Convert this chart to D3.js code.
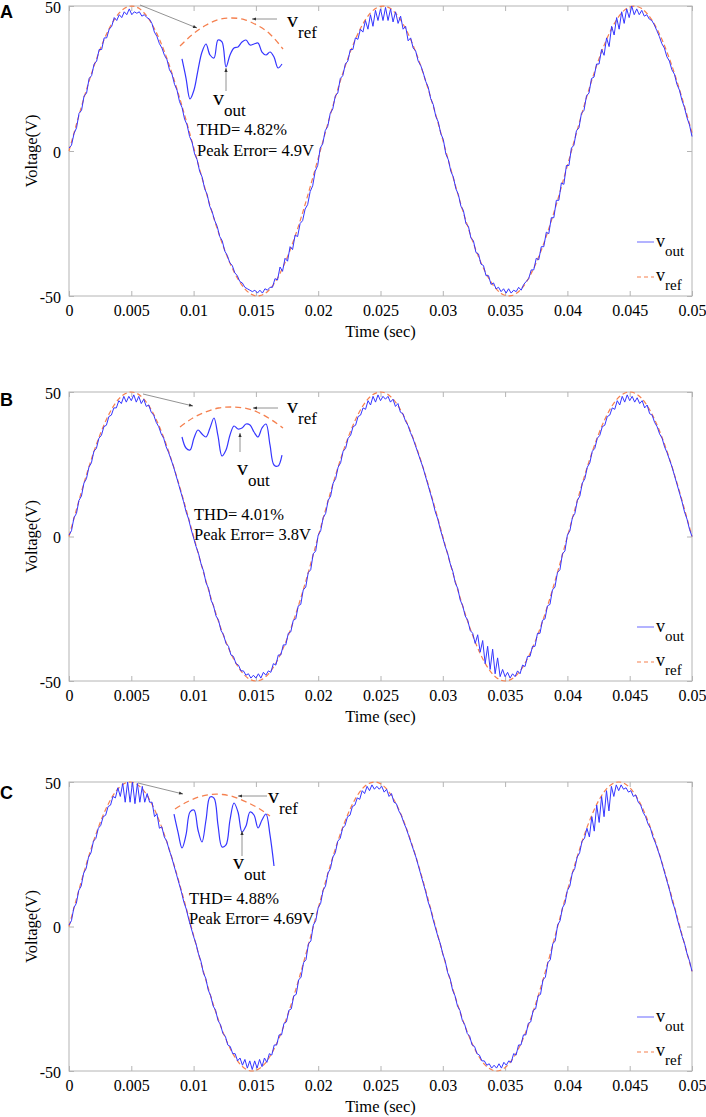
<!DOCTYPE html>
<html><head><meta charset="utf-8">
<script src="https://cdn.jsdelivr.net/npm/d3@7"></script>
<style>body{margin:0;background:#fff}svg{display:block}svg text{font-family:"Liberation Serif","Times New Roman",serif}</style>
</head><body>
<svg id="chart" width="706" height="1117"></svg>
<script>
// ---------- DATA ----------
const timeDomain = [0, 0.05];
const xTicks = [0,0.005,0.01,0.015,0.02,0.025,0.03,0.035,0.04,0.045,0.05];
const xTickLabels = ["0","0.005","0.01","0.015","0.02","0.025","0.03","0.035","0.04","0.045","0.05"];
const yTicks = [50, 0, -50];
const yTickLabels = ["50","0","-50"];
const panelLetters = ["A","B","C"];
const thdLabels = ["THD= 4.82%","THD= 4.01%","THD= 4.88%"];
const peakErrLabels = ["Peak Error= 4.9V","Peak Error= 3.8V","Peak Error= 4.69V"];

// v_out samples (uniform over 0..0.05 s)
const voutA = [
1,2,6,8,13,14,19,20,25,26,30,31,35,35,39,39,42,43,46,45,47,46,48,47,49,
47,48,47.5,48,46.5,47,46,45.5,44,41,39.5,37,35.5,33,31.5,28,26.5,23,21,17,15,11,9,5,3,
-1,-3,-7,-9,-13,-15,-19,-21,-24,-26,-29.5,-31,-34.5,-36,-38.5,-39.5,-42,-43,-45,-45.5,-47,-47.5,-48,-48.5,-48,
-49,-48,-49,-47.5,-48,-47,-47,-44,-44.5,-40,-41.5,-37,-38,-33,-34,-29,-29.5,-25,-24,-20,-18.5,-14,-12,-7,-5,
1,2.5,7,8.5,13,14.5,19,20,25,26,30,31,35,35,39,38.5,42,41,45,42,47,43,48.5,45,49,
45,49.5,45,49,44.5,48,44,46.5,42,43,38,39,35.5,34.5,31,29.5,27,24,22,18,16,12,10,6,4,
-1,-3,-7,-9,-13,-15,-19,-20.5,-25,-26,-30,-31,-35,-35.5,-39,-39.5,-43,-43,-46,-45.5,-47.5,-47,-48.5,-47.5,-49,
-47.5,-49,-48,-48.5,-47,-48,-46,-45,-44,-41,-41,-37,-37.5,-33,-33,-28,-28.5,-23,-23,-17,-17,-11,-11.5,-5,-5,
1,2,7,8,13,14,19,20,25,25.5,30,30,35,33,39,36,43,40,46,42,48,44,49,46,50,
47,49,47,48.5,46.5,47,45.5,45,43.5,41.5,39.5,37,35.5,32.5,31,28,26.5,23,21,17.5,15,11.5,9,5
];
const voutB = [
0.5,2,6.5,8,12.5,14,18.5,20,24,25.5,29.5,30.5,34,35,38,38.5,41.5,42,44.5,44.5,47,46,48.5,46.5,48.5,
47,49,46.5,48.5,46,47.5,45,45.5,43,42,39.5,38,35.5,34,31,29,26.5,24,21,18,15,12,8.5,6,2.5,
-0.5,-3.5,-6,-9.5,-12,-16,-18,-22,-24,-27.5,-29,-32.5,-34,-37,-38,-41,-41.5,-44,-44.5,-46.5,-46.5,-48,-47.5,-49,-48,
-49,-47.5,-49,-47,-48,-46.5,-47,-44,-44.5,-41,-41,-37.5,-37.5,-33.5,-33,-29,-28.5,-24,-23.5,-18.5,-17.5,-12.5,-11.5,-6,-5,
0.5,2,6.5,8,12.5,14,18.5,20,24,25.5,29.5,30.5,34,35,38,38.5,41.5,42,44.5,44,47,45.5,48.5,46.5,49,
47,48.5,47.5,48.5,46.5,47.5,45,46,43,42.5,40,38.5,36,34,31.5,29,26.5,24,21,18,15,12,8.5,6,2.5,
-0.5,-3.5,-6,-9.5,-12,-16,-18,-22,-24,-27.5,-29,-32.5,-33.5,-37,-34,-40,-36,-44,-38,-46,-39,-47.5,-42,-48.5,-46,
-48.5,-47,-49,-47.5,-48.5,-46.5,-47.5,-44.5,-45,-41.5,-41.5,-38,-38,-33.5,-33.5,-29,-28.5,-24,-23.5,-18.5,-17.5,-12.5,-11.5,-6,-5,
0.5,2,6.5,8,12.5,14,18.5,20,24,25.5,29.5,30.5,34,35,38,38.5,41.5,42,44.5,44,47,45.5,48.5,46.5,49,
47,48.5,46.5,48,46,47,44.5,45.5,42.5,42,39.5,38,35.5,34,31,29,26.5,24,21,18,15,12,8.5,6,2.5,0
];
const voutC = [
0.5,2,6.5,8,12.5,14,18.5,20,24,25.5,29.5,30.5,34,35,38,38.5,41.5,42,45,44.5,48,45,49.5,43,50,
43,50,42.5,49.5,43,48.5,43,46,43,43,38,39,34,34.5,31,29.5,26.5,24,21,18,15,12,8.5,6,2.5,
-0.5,-3.5,-6,-9.5,-12,-16,-18,-22,-24,-27.5,-29,-32.5,-34,-37,-38,-41,-41.5,-44,-44,-46.5,-45.5,-48,-46,-49,-46.5,
-49.5,-46.5,-49,-46,-48.5,-45.5,-47,-44,-44.5,-41,-41,-37.5,-37.5,-33.5,-33,-29,-28.5,-24,-23.5,-18.5,-17.5,-12.5,-11.5,-6,-5,
0.5,2,6.5,8,12.5,14,18.5,20,24,25.5,29.5,30.5,34,35,38,38.5,41.5,42,44.5,44,47,46,48.5,47,49,
47.5,48.5,47.5,48.5,46.5,47.5,45,46,43,42.5,40,38.5,36,34,31.5,29,26.5,24,21,18,15,12,8.5,6,2.5,
-0.5,-3.5,-6,-9.5,-12,-16,-18,-22,-24,-27.5,-29,-32.5,-34,-37,-38,-41,-41.5,-44,-44.5,-46.5,-46.5,-48,-47.5,-49,-48,
-49,-47.5,-49,-47,-48,-46.5,-47,-44,-44.5,-41,-41,-37.5,-37.5,-33.5,-33,-29,-28.5,-24,-23.5,-18.5,-17.5,-12.5,-11.5,-6,-5,
0.5,2,6.5,8,12.5,14,18.5,20,24,25.5,29.5,30.5,34,31,38,33,42,36,45,38,47,40,48.5,45,49,
47,49,47.5,48,46.5,47,45,45.5,43,42,39.5,38,35.5,34,31,29,26.5,24,21,18,15,12,8.5,6,2.5,
-0.5,-3.5,-6,-9.5,-12,-15.5
];

// v_ref samples (uniform over 0..0.05 s)
const vrefA = [
0,12.4,24.1,34.2,42.2,47.6,49.9,49.1,45.2,38.5,29.4,18.4,6.3,-6.3,-18.4,-29.4,-38.5,-45.2,-49.1,-49.9,-47.6,-42.2,-34.2,-24.1,-12.4,
0,12.4,24.1,34.2,42.2,47.6,49.9,49.1,45.2,38.5,29.4,18.4,6.3,-6.3,-18.4,-29.4,-38.5,-45.2,-49.1,-49.9,-47.6,-42.2,-34.2,-24.1,-12.4,
0,12.4,24.1,34.2,42.2,47.6,49.9,49.1,45.2,38.5,29.4,18.4,6.3
];
const vrefB = [
0,15.5,29.4,40.5,47.6,50,47.6,40.5,29.4,15.5,0,-15.5,-29.4,-40.5,-47.6,-50,-47.6,-40.5,-29.4,-15.5,
0,15.5,29.4,40.5,47.6,50,47.6,40.5,29.4,15.5,0,-15.5,-29.4,-40.5,-47.6,-50,-47.6,-40.5,-29.4,-15.5,
0,15.5,29.4,40.5,47.6,50,47.6,40.5,29.4,15.5,0
];
const vrefC = [
0,15.5,29.4,40.5,47.6,50,47.6,40.5,29.4,15.5,0,-15.5,-29.4,-40.5,-47.6,-50,-47.6,-40.5,-29.4,-15.5,
0,15.5,29.4,40.5,47.6,50,47.6,40.5,29.4,15.5,0,-15.5,-29.4,-40.5,-47.6,-50,-47.6,-40.5,-29.4,-15.5,
0,15.5,29.4,40.5,47.6,50,47.6,40.5,29.4,15.5,0,-15.5
];

// zoomed insets (relative level: 100 = top of reference arc)
const insetOutA = [49.4,25.9,0,11.1,35.8,58.0,67.9,54.3,50.6,72.8,70.4,39.5,54.3,63.0,64.2,70.4,72.8,66.7,67.9,69.1,58.0,54.3,58.0,51.9,38.3,43.2];
const insetRefA = [65.4,80,91,98,100,98,91,80,61.7];
const insetOutB = [52.4,34.9,31.7,50.8,63.5,57.1,52.4,66.7,82.5,54.0,22.2,31.7,55.6,69.8,65.1,66.7,73.0,71.4,60.3,52.4,66.7,73.0,39.7,7.9,6.3,23.8];
const insetRefB = [68.3,82.5,92.1,98.4,100,98.4,92.1,81.0,66.7];
const insetOutC = [72.2,47.2,25.0,43.1,75.0,77.8,50.0,33.3,63.9,95.8,94.4,56.9,26.4,29.2,63.9,87.5,75.0,47.2,55.6,75.0,70.8,52.8,63.9,72.2,43.1,0];
const insetRefC = [79.2,88.9,95.8,99.3,99.3,95.8,88.9,80.6,69.4];

// ---------- LAYOUT ----------
const X0 = 69, X1 = 692;
const OUT_COLOR = "#3535ff", REF_COLOR = "#f5804f", FRAME = "#b4b4b4";
const panels = [
  {top:6, bottom:296, letterY:18, out:voutA, ref:vrefA, inOut:insetOutA, inRef:insetRefA,
   inset:{refX:[180,283], outX:[182,282], hi:18, lo:99},
   ptr:[[140,5],[197,28]], refArrow:[[277,19],[252,19]], outArrow:[[226,91],[226,68]],
   refLbl:[287,27], outLbl:[213,105], thd:[197,135], pe:[197,156]},
  {top:392, bottom:681, letterY:406, out:voutB, ref:vrefB, inOut:insetOutB, inRef:insetRefB,
   inset:{refX:[180,283], outX:[182,282], hi:407, lo:470},
   ptr:[[143,394],[193,406]], refArrow:[[278,408],[253,408]], outArrow:[[240,452],[240,433]],
   refLbl:[287,413], outLbl:[237,475], thd:[194,520], pe:[194,540]},
  {top:782, bottom:1071, letterY:799, out:voutC, ref:vrefC, inOut:insetOutC, inRef:insetRefC,
   inset:{refX:[175,270], outX:[174,274], hi:794, lo:866},
   ptr:[[138,783],[183,794]], refArrow:[[267,796],[238,796]], outArrow:[[242,856],[242,831]],
   refLbl:[268,803], outLbl:[233,869], thd:[189,904], pe:[189,924]}
];

const svg = d3.select("#chart");
const defs = svg.append("defs");
defs.append("marker").attr("id","ah").attr("viewBox","0 0 10 10").attr("refX",10).attr("refY",5)
  .attr("markerWidth",6).attr("markerHeight",5).attr("orient","auto")
  .append("path").attr("d","M0,1 L10,5 L0,9 Z").attr("fill","#333");

const serif = "Liberation Serif, Times New Roman, serif";
const x = d3.scaleLinear().domain(timeDomain).range([X0, X1]);

function subLabel(g, px, py, sub, big, small){
  const t = g.append("text").attr("x",px).attr("y",py).style("font-family",serif).attr("font-size",big).attr("fill","#000");
  t.append("tspan").text("v");
  t.append("tspan").attr("dy", big*0.5).attr("font-size",small).text(sub);
}
function txt(g, px, py, s, size, anchor){
  return g.append("text").attr("x",px).attr("y",py).style("font-family",serif)
    .attr("font-size",size).attr("text-anchor",anchor||"start").attr("fill","#000").text(s);
}

panels.forEach((p, pi) => {
  const y = d3.scaleLinear().domain([-50, 50]).range([p.bottom, p.top]);
  const g = svg.append("g");

  // frame
  g.append("rect").attr("x",X0).attr("y",p.top).attr("width",X1-X0).attr("height",p.bottom-p.top)
    .attr("fill","none").attr("stroke",FRAME).attr("stroke-width",1);

  // ticks (inward, all four sides)
  const bottomAxis = d3.axisBottom(x).tickValues(xTicks).tickSize(-5).tickPadding(9)
    .tickFormat((d,i)=>xTickLabels[i]);
  const ax = g.append("g").attr("transform",`translate(0,${p.bottom})`).call(bottomAxis);
  const topAxis = d3.axisTop(x).tickValues(xTicks).tickSize(-5).tickFormat("");
  const at = g.append("g").attr("transform",`translate(0,${p.top})`).call(topAxis);
  const leftAxis = d3.axisLeft(y).tickValues(yTicks).tickSize(-5).tickPadding(8)
    .tickFormat((d,i)=>yTickLabels[i]);
  const al = g.append("g").attr("transform",`translate(${X0},0)`).call(leftAxis);
  const rightAxis = d3.axisRight(y).tickValues(yTicks).tickSize(-5).tickFormat("");
  const ar = g.append("g").attr("transform",`translate(${X1},0)`).call(rightAxis);
  [ax,at,al,ar].forEach(a=>{
    a.attr("font-family",null);
    a.select(".domain").remove();
    a.selectAll(".tick line").attr("stroke",FRAME);
    a.selectAll("text").style("font-family",serif).attr("font-size",16).attr("fill","#000");
  });
  al.selectAll("text").attr("dy","0.4em");

  // titles
  txt(g, (X0+X1)/2, p.bottom+41, "Time (sec)", 16.5, "middle");
  g.append("text").attr("transform",`translate(37,${(p.top+p.bottom)/2}) rotate(-90)`)
    .attr("text-anchor","middle").style("font-family",serif).attr("font-size",16.5).text("Voltage(V)");
  g.append("text").attr("x",0).attr("y",p.letterY).style("font-family","Liberation Sans, Arial, sans-serif")
    .attr("font-weight","bold").attr("font-size",18).text(panelLetters[pi]);

  // series
  const nO = p.out.length, nR = p.ref.length;
  const lineOut = d3.line().x((d,i)=>x(timeDomain[1]*i/(nO-1))).y(d=>y(d));
  const lineRef = d3.line().x((d,i)=>x(timeDomain[1]*i/(nR-1))).y(d=>y(d)).curve(d3.curveNatural);
  g.append("path").attr("d",lineRef(p.ref)).attr("fill","none").attr("stroke",REF_COLOR)
    .attr("stroke-width",1.2).attr("stroke-dasharray","5,3");
  g.append("path").attr("d",lineOut(p.out)).attr("fill","none").attr("stroke",OUT_COLOR)
    .attr("stroke-width",1).attr("stroke-linejoin","round");

  // inset
  const iy = d3.scaleLinear().domain([0,100]).range([p.inset.lo, p.inset.hi]);
  const ixR = d3.scaleLinear().domain([0, p.inRef.length-1]).range(p.inset.refX);
  const ixO = d3.scaleLinear().domain([0, p.inOut.length-1]).range(p.inset.outX);
  g.append("path").attr("d", d3.line().x((d,i)=>ixR(i)).y(d=>iy(d)).curve(d3.curveNatural)(p.inRef))
    .attr("fill","none").attr("stroke",REF_COLOR).attr("stroke-width",1.3).attr("stroke-dasharray","6,4");
  g.append("path").attr("d", d3.line().x((d,i)=>ixO(i)).y(d=>iy(d)).curve(d3.curveCatmullRom)(p.inOut))
    .attr("fill","none").attr("stroke",OUT_COLOR).attr("stroke-width",1.2);

  // arrows
  [p.ptr, p.refArrow, p.outArrow].forEach(a=>{
    g.append("line").attr("x1",a[0][0]).attr("y1",a[0][1]).attr("x2",a[1][0]).attr("y2",a[1][1])
      .attr("stroke","#777").attr("stroke-width",0.8).attr("marker-end","url(#ah)");
  });
  subLabel(g, p.refLbl[0], p.refLbl[1], "ref", 22, 17);
  subLabel(g, p.outLbl[0], p.outLbl[1], "out", 22, 17);
  txt(g, p.thd[0], p.thd[1], thdLabels[pi], 16.5);
  txt(g, p.pe[0], p.pe[1], peakErrLabels[pi], 16.5);

  // legend
  const lg = g.append("g").attr("transform",`translate(0,${p.bottom})`);
  lg.append("line").attr("x1",637).attr("x2",654).attr("y1",-54).attr("y2",-54).attr("stroke","#8a8aff").attr("stroke-width",1.3);
  subLabel(lg, 656, -49, "out", 18, 15);
  lg.append("line").attr("x1",637).attr("x2",654).attr("y1",-19).attr("y2",-19).attr("stroke",REF_COLOR)
    .attr("stroke-width",1.1).attr("stroke-dasharray","4,3");
  subLabel(lg, 656, -15, "ref", 18, 15);
});
</script>
</body></html>
